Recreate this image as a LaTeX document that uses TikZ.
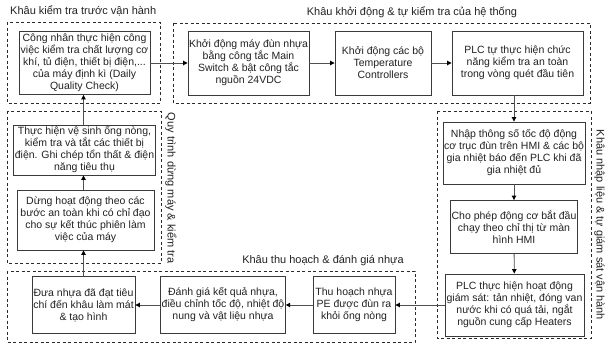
\documentclass[tikz,border=0pt]{standalone}
\usepackage{fontspec}
\setmainfont{Liberation Sans}
\usetikzlibrary{arrows.meta}
\definecolor{boxc}{HTML}{3A3A3A}
\definecolor{grpc}{HTML}{2A2A2A}
\definecolor{arrc}{HTML}{505050}
\definecolor{txt}{HTML}{222222}
\begin{document}
\begin{tikzpicture}[x=1pt,y=-1pt,
  box/.style={draw=boxc, line width=0.9pt, align=center, inner sep=1pt,
    font=\fontsize{10.5}{12}\selectfont, text=txt},
  grp/.style={draw=grpc, line width=1pt, dash pattern=on 3pt off 2.5pt},
  lbl/.style={font=\fontsize{11}{13}\selectfont, text=txt, inner sep=0pt},
  arr/.style={draw=arrc, line width=0.9pt, -{Triangle[length=4.5pt,width=4.5pt,color=black]}}]
\useasboundingbox (0,0) rectangle (605,348);
\fill[white] (0,0) rectangle (605,348);

% groups
\draw[grp] (7,22) rectangle (160,103);
\draw[grp] (173,23) rectangle (590,103);
\draw[grp] (437,111) rectangle (591,338);
\draw[grp] (7,111) rectangle (161,263);
\draw[grp] (7,271) rectangle (415,342);

% group labels
\node[lbl, anchor=west] (l1) at (10,11) {Khâu kiểm tra trước vận hành};
\node[lbl] (l2) at (412,12) {Khâu khởi động \& tự kiểm tra của hệ thống};
\node[lbl, rotate=-90] (l3) at (599.5,225) {Khâu nhập liệu \& tự giám sát vận hành};
\node[lbl, rotate=-90] (l4) at (171,188) {Quy trình dừng máy \& kiểm tra};
\node[lbl] (l5) at (323,261) {Khâu thu hoạch \& đánh giá nhựa};

% boxes
\node[box, minimum width=131pt, minimum height=63pt] (b1) at (84.5,63)
  {Công nhân thực hiện công\\việc kiểm tra chất lượng cơ\\khí, tủ điện, thiết bị điện,...\\của máy định kì (Daily\\Quality Check)};
\node[box, minimum width=119pt, minimum height=64pt] (b2) at (248.5,63)
  {Khởi động máy đùn nhựa\\bằng công tắc Main\\Switch \& bật công tắc\\nguồn 24VDC};
\node[box, minimum width=96pt, minimum height=64pt] (b3) at (383,63)
  {Khởi động các bộ\\Temperature\\Controllers};
\node[box, minimum width=131pt, minimum height=64pt] (b4) at (517.5,63)
  {PLC tự thực hiện chức\\năng kiểm tra an toàn\\trong vòng quét đầu tiên};
\node[box, minimum width=138pt, minimum height=62pt] (b5) at (514,153)
  {Nhập thông số tốc độ động\\cơ trục đùn trên HMI \& các bộ\\gia nhiệt báo đến PLC khi đã\\gia nhiệt đủ};
\node[box, minimum width=126pt, minimum height=53pt] (b6) at (514,227)
  {Cho phép động cơ bắt đầu\\chạy theo chỉ thị từ màn\\hình HMI};
\node[box, minimum width=139pt, minimum height=62pt] (b7) at (514.5,305)
  {PLC thực hiện hoạt động\\giám sát: tản nhiệt, đóng van\\nước khi có quá tải, ngắt\\nguồn cung cấp Heaters};
\node[box, minimum width=103pt, minimum height=57pt] (b10) at (83.5,305)
  {Đưa nhựa đã đạt tiêu\\chí đến khâu làm mát\\\& tạo hình};
\node[box, minimum width=124pt, minimum height=57pt] (b11) at (223,305)
  {Đánh giá kết quả nhựa,\\điều chỉnh tốc độ, nhiệt độ\\nung và vật liệu nhựa};
\node[box, minimum width=82pt, minimum height=57pt] (b12) at (354,305)
  {Thu hoạch nhựa\\PE được đùn ra\\khỏi ống nòng};
\node[box, minimum width=139pt, minimum height=50pt] (b8) at (84.5,150)
  {Thực hiện vệ sinh ống nòng,\\kiểm tra và tắt các thiết bị\\điện. Ghi chép tổn thất \& điện\\năng tiêu thụ};
\node[box, minimum width=137pt, minimum height=60pt] (b9) at (85.5,220)
  {Dừng hoạt động theo các\\bước an toàn khi có chỉ đạo\\cho sự kết thúc phiên làm\\việc của máy};

% connectors
\draw[arr] (b1) -- (b2);
\draw[arr] (b2) -- (b3);
\draw[arr] (b3) -- (b4);
\draw[arr] (b4.south -| b5.north) -- (b5.north);
\draw[arr] (b5) -- (b6);
\draw[arr] (b6) -- (b7);
\draw[arr] (b7) -- (b12);
\draw[arr] (b12) -- (b11);
\draw[arr] (b11) -- (b10);
\draw[arr] (b10.north) -- (b10.north |- b9.south);
\draw[arr] (b10.north |- b9.north) -- (b10.north |- b8.south);
\draw[arr] (b10.north |- b8.north) -- (b10.north |- b1.south);
\end{tikzpicture}
\end{document}
